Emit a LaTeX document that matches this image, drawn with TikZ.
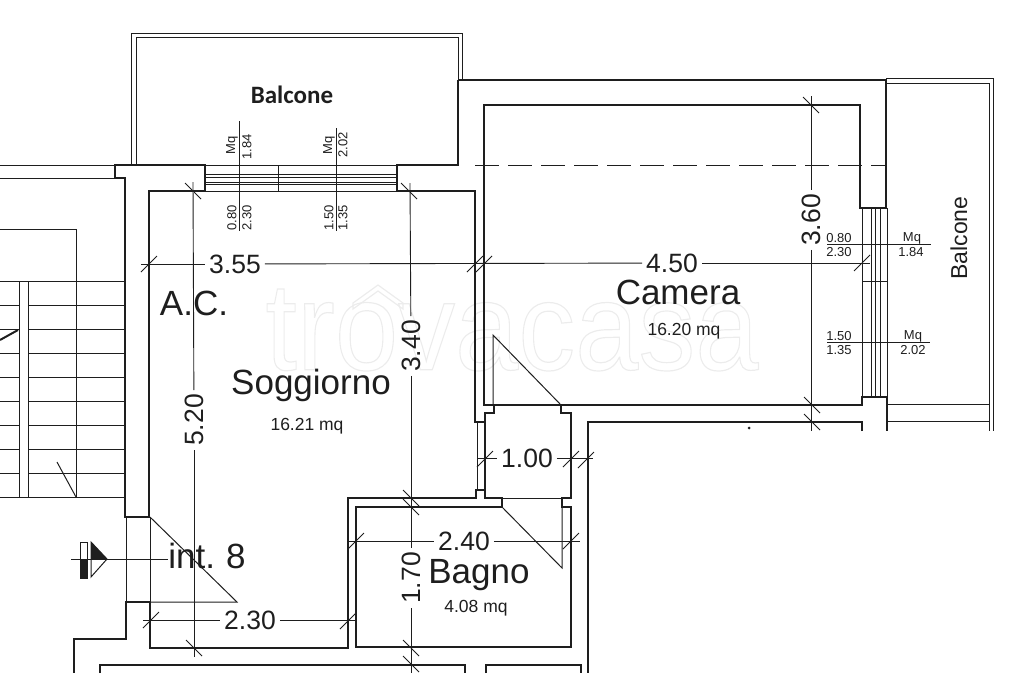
\documentclass[tikz,border=0pt]{standalone}
\usepackage{fontspec}
\setmainfont{Liberation Sans}
\newfontfamily\balconefont{Carlito}
\usepackage{xcolor}
\definecolor{inkline}{HTML}{1E1E1E}
\definecolor{washmark}{HTML}{ECECEC}
\tikzset{
  wallline/.style={draw=inkline,line width=2.7pt,line join=miter},
  thinline/.style={draw=inkline,line width=1pt},
  fineline/.style={draw=inkline,line width=0.75pt},
  dimline/.style={draw=inkline,line width=0.9pt},
  tickline/.style={draw=inkline,line width=0.9pt},
  roomlabel/.style={inner sep=0pt,text=inkline,font=\fontsize{35}{36}\selectfont},
  arealabel/.style={inner sep=0pt,text=inkline,font=\fontsize{17.5}{18}\selectfont},
  dimlabel/.style={inner sep=4pt,text=inkline,font=\fontsize{26.5}{27}\selectfont},
  tinylabel/.style={inner sep=0pt,text=inkline,font=\fontsize{13}{14}\selectfont},
}
\begin{document}
\begin{tikzpicture}[x=1pt,y=1pt]
\useasboundingbox (0,0) rectangle (1024,-673);
% watermark
\node [inner sep=0pt,font=\fontsize{125}{125}\selectfont,xscale=0.91] (wmark) at (512,-330) {\special{pdf:code q 1 Tr 1.2 w 0.925 G}trovacasa\special{pdf:code Q}};
\draw [washmark,line width=1.2pt] (353,-303) -- (378,-285) -- (403,-303) -- (403,-309) -- (378,-291) -- (353,-309) -- cycle;
% balcony at the top
\draw [fineline] (131,-165) -- (131,-33) -- (462,-33) -- (462,-80);
\draw [fineline] (136,-165) -- (136,-37) -- (458,-37) -- (458,-80);
% balcony on the right
\draw [fineline] (886,-78) -- (993,-78) -- (993,-431);
\draw [fineline] (886,-83) -- (989,-83) -- (989,-431);
\draw [fineline] (887,-404) -- (989,-404);
\draw [fineline] (887,-421) -- (989,-421);
% walls
\draw [wallline] (458,-80) -- (886,-80) -- (886,-208) -- (860,-208) -- (860,-105) -- (484,-105) -- (484,-405) -- (862,-405) -- (862,-397) -- (887,-397) -- (887,-431);
\draw [wallline] (862,-431) -- (862,-422) -- (588,-422) -- (588,-673);
\draw [wallline] (458,-80) -- (458,-165) -- (397,-165) -- (397,-191) -- (475,-191) -- (475,-422) -- (484,-422);
\draw [wallline] (115,-178) -- (115,-165) -- (205,-165) -- (205,-191) -- (149,-191) -- (149,-517) -- (125,-517) -- (125,-178) -- cycle;
\draw [wallline] (494,-405) -- (494,-413) -- (485,-413) -- (485,-498);
\draw [wallline] (561,-405) -- (561,-413) -- (571,-413) -- (571,-498) -- (562,-498) -- (562,-507) -- (571,-507) -- (571,-647) -- (356,-647) -- (356,-507) -- (502,-507) -- (502,-498) -- (485,-498) -- (485,-490) -- (476,-490) -- (476,-498) -- (348,-498) -- (348,-648) -- (150,-648) -- (150,-602) -- (126,-602) -- (126,-639) -- (74,-639) -- (74,-673);
\draw [wallline] (100,-673) -- (100,-665) -- (465,-665) -- (465,-673);
\draw [wallline] (486,-673) -- (486,-665) -- (581,-665) -- (581,-673);
% thin part of wall and door openings
\draw [thinline] (477,-422) -- (477,-490);
\draw [thinline] (502,-498) -- (562,-498);
\draw [thinline] (494,-405) -- (561,-405);
\draw [thinline] (126,-517) -- (126,-602);
\draw [thinline] (150,-517) -- (150,-602);
\draw [thinline] (150,-517) -- (237,-602) -- (150,-602);
\draw [thinline] (502,-507) -- (562,-568) -- (562,-507);
\draw [thinline] (493,-405) -- (493,-335) -- (561,-405);
% window at the top
\foreach \wy in {174,177,182,184}
  \draw [fineline] (205,-\wy) -- (397,-\wy);
\draw [fineline] (205,-165) -- (397,-165);
\draw [fineline] (205,-191) -- (397,-191);
\draw [fineline] (278,-165) -- (278,-191);
% window on the right
\foreach \wx in {862,871,875,880,887}
  \draw [fineline] (\wx,-208) -- (\wx,-397);
\draw [fineline] (862,-281) -- (887,-281);
% beam
\draw [fineline,dash pattern=on 24pt off 9pt] (475,-165) -- (886,-165);
% stairs
\draw [fineline] (0,-165) -- (115,-165);
\draw [fineline] (0,-178) -- (115,-178);
\draw [thinline] (0,-229) -- (76,-229) -- (76,-497);
\draw [thinline] (0,-281) -- (125,-281);
\draw [thinline] (0,-497) -- (125,-497);
\foreach \sy in {305,329,353,377,401,425,449,473} {
  \draw [thinline] (0,-\sy) -- (19,-\sy);
  \draw [thinline] (28,-\sy) -- (125,-\sy);
}
\draw [thinline] (19,-281) -- (19,-497);
\draw [thinline] (28,-281) -- (28,-497);
\draw [inkline,line width=2pt] (0,-340) -- (18,-330);
\draw [thinline] (57,-462) -- (76,-497);
% entrance mark
\draw [thinline] (80,-542) rectangle (87,-578);
\fill [inkline] (80,-560) rectangle (87,-578);
\draw [thinline] (91,-542) -- (107,-559) -- (91,-577) -- cycle;
\fill [inkline] (91,-542) -- (107,-559) -- (91,-559) -- cycle;
% labels
\node [inner sep=0pt,text=inkline,font=\balconefont\bfseries\fontsize{25}{25}\selectfont] (balconeA) at (292,-95) {Balcone};
\node [inner sep=0pt,text=inkline,font=\fontsize{23}{24}\selectfont,rotate=90] (balconeB) at (959,-238) {Balcone};
\node [roomlabel] (acnote) at (194,-303) {A.C.};
\node [roomlabel] (soggiorno) at (311,-385) {Soggiorno};
\node [arealabel] (soggiornoarea) at (307,-426) {16.21 mq};
\node [roomlabel] (camera) at (678,-292) {Camera};
\node [arealabel] (cameraarea) at (684,-331) {16.20 mq};
\node [roomlabel] (bagno) at (479,-575) {Bagno};
\node [arealabel] (bagnoarea) at (476,-608) {4.08 mq};
\node [roomlabel,inner sep=0pt] (intnote) at (207,-556) {int.\hspace{-2pt} 8};
\coordinate (entrystart) at (71,-559);
\draw [thinline] (entrystart) -- (entrystart -| intnote.west);
% dimensions
\node [dimlabel] (dimA) at (235,-264) {3.55};
\node [dimlabel] (dimB) at (672,-263) {4.50};
\draw [dimline] (141,-264) -- (dimA);
\draw [dimline] (dimA) -- (dimB);
\draw [dimline] (dimB) -- (870,-263);
\node [dimlabel,rotate=90] (dimC) at (811,-220) {3.60};
\draw [dimline] (811,-96) -- (dimC);
\draw [dimline] (dimC) -- (811,-431);
\node [dimlabel,rotate=90] (dimD) at (411,-346) {3.40};
\draw [dimline] (410,-183) -- (dimD);
\draw [dimline] (dimD) -- (411,-516);
\node [dimlabel,rotate=90] (dimE) at (411,-578) {1.70};
\draw [dimline] (411,-516) -- (dimE);
\draw [dimline] (dimE) -- (411,-673);
\node [dimlabel,rotate=90] (dimF) at (194,-420) {5.20};
\draw [dimline] (193,-182) -- (dimF);
\draw [dimline] (dimF) -- (194,-657);
\node [dimlabel] (dimG) at (250,-620) {2.30};
\draw [dimline] (143,-620) -- (dimG);
\draw [dimline] (dimG) -- (356,-620);
\node [dimlabel] (dimH) at (464,-541) {2.40};
\draw [dimline] (347,-541) -- (dimH);
\draw [dimline] (dimH) -- (580,-541);
\node [dimlabel] (dimI) at (527,-458) {1.00};
\draw [dimline] (477,-458) -- (dimI);
\draw [dimline] (dimI) -- (593,-458);
% ticks
\foreach \tx/\ty in {149/264,475/264,484/264,862/263,356/541,571/541,485/459,571/459,586/460,151/620,348/621}
  \draw [tickline] (\tx-8,-\ty-8) -- (\tx+8,-\ty+8);
\foreach \tx/\ty in {811/105,812/405,812/422,409/191,411/498,411/507,411/648,411/664,193/191,194/648}
  \draw [tickline] (\tx-8,-\ty+8) -- (\tx+8,-\ty-8);
% window notes at the top
\draw [thinline] (239,-121) -- (239,-231);
\draw [thinline] (336,-128) -- (336,-231);
\node [tinylabel,rotate=90] (mqA) at (232,-145) {Mq};
\node [tinylabel,rotate=90] (areaA) at (247,-147) {1.84};
\node [tinylabel,rotate=90] (wA) at (232,-218) {0.80};
\node [tinylabel,rotate=90] (hA) at (247,-218) {2.30};
\node [tinylabel,rotate=90] (mqB) at (329,-145) {Mq};
\node [tinylabel,rotate=90] (areaB) at (343,-145) {2.02};
\node [tinylabel,rotate=90] (wB) at (329,-218) {1.50};
\node [tinylabel,rotate=90] (hB) at (343,-218) {1.35};
% window notes on the right
\draw [thinline] (827,-244) -- (931,-244);
\draw [thinline] (827,-342) -- (930,-342);
\node [tinylabel] (wC) at (839,-238) {0.80};
\node [tinylabel] (hC) at (839,-252) {2.30};
\node [tinylabel] (mqC) at (912,-238) {Mq};
\node [tinylabel] (areaC) at (911,-252) {1.84};
\node [tinylabel] (wD) at (839,-336) {1.50};
\node [tinylabel] (hD) at (839,-350) {1.35};
\node [tinylabel] (mqD) at (913,-336) {Mq};
\node [tinylabel] (areaD) at (913,-350) {2.02};
\fill [inkline] (749,-428) circle (1.5);
\end{tikzpicture}
\end{document}
